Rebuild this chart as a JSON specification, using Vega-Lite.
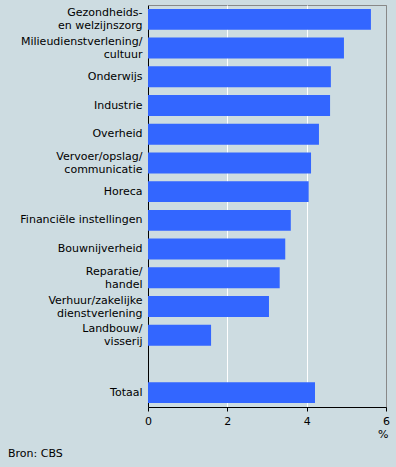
{
  "$schema": "https://vega.github.io/schema/vega-lite/v6.json",
  "autosize": "none",
  "width": 238,
  "height": 402,
  "padding": {"left": 148, "top": 5, "right": 10, "bottom": 60},
  "background": "#cddce1",
  "config": {
    "view": {"stroke": "#888888", "strokeWidth": 1, "fill": "#cddce1"},
    "font": "DejaVu Sans"
  },
  "title": {
    "text": "Bron: CBS",
    "orient": "bottom",
    "anchor": "start",
    "frame": "group",
    "dx": -140,
    "offset": 9,
    "fontSize": 11,
    "fontWeight": "normal",
    "color": "#000000",
    "font": "DejaVu Sans"
  },
  "data": {
    "values": [
      {"sector": "Gezondheids-|en welzijnszorg", "value": 5.62},
      {"sector": "Milieudienstverlening/|cultuur", "value": 4.94},
      {"sector": "Onderwijs", "value": 4.61},
      {"sector": "Industrie", "value": 4.59},
      {"sector": "Overheid", "value": 4.31},
      {"sector": "Vervoer/opslag/|communicatie", "value": 4.11},
      {"sector": "Horeca", "value": 4.05},
      {"sector": "Financiële instellingen", "value": 3.6},
      {"sector": "Bouwnijverheid", "value": 3.46},
      {"sector": "Reparatie/|handel", "value": 3.32},
      {"sector": "Verhuur/zakelijke|dienstverlening", "value": 3.05},
      {"sector": "Landbouw/|visserij", "value": 1.59},
      {"sector": "Totaal", "value": 4.21}
    ]
  },
  "mark": {"type": "bar", "color": "#3366ff"},
  "encoding": {
    "y": {
      "field": "sector",
      "type": "nominal",
      "scale": {
        "domain": [
          "Gezondheids-|en welzijnszorg",
          "Milieudienstverlening/|cultuur",
          "Onderwijs",
          "Industrie",
          "Overheid",
          "Vervoer/opslag/|communicatie",
          "Horeca",
          "Financiële instellingen",
          "Bouwnijverheid",
          "Reparatie/|handel",
          "Verhuur/zakelijke|dienstverlening",
          "Landbouw/|visserij",
          " ",
          "Totaal"
        ],
        "paddingInner": 0.27,
        "paddingOuter": 0.135
      },
      "axis": {
        "title": null,
        "labelExpr": "split(datum.value, '|')",
        "labelFontSize": 11,
        "labelColor": "#000000",
        "labelFont": "DejaVu Sans",
        "labelLineHeight": 13,
        "labelPadding": 6,
        "labelOffset": {"condition": {"test": "indexof(datum.value, '|') >= 0", "value": -6}, "value": 0},
        "ticks": false,
        "domainColor": "#000000",
        "labelLimit": 200
      }
    },
    "x": {
      "field": "value",
      "type": "quantitative",
      "scale": {"domain": [0, 6], "nice": false},
      "axis": {
        "values": [0, 2, 4, 6],
        "title": "%",
        "titleAnchor": "end",
        "titleAlign": "right",
        "titleFontWeight": "normal",
        "titleFontSize": 11,
        "titleColor": "#000000",
        "titlePadding": 2,
        "titleX": 240,
        "labelFontSize": 11,
        "labelColor": "#000000",
        "labelFont": "DejaVu Sans",
        "labelPadding": 4,
        "labelFlush": false,
        "tickColor": "#000000",
        "tickSize": 4,
        "domainColor": "#000000",
        "gridColor": {"condition": {"test": "datum.value == 6", "value": "#888888"}, "value": "#ffffff"}
      }
    }
  }
}
